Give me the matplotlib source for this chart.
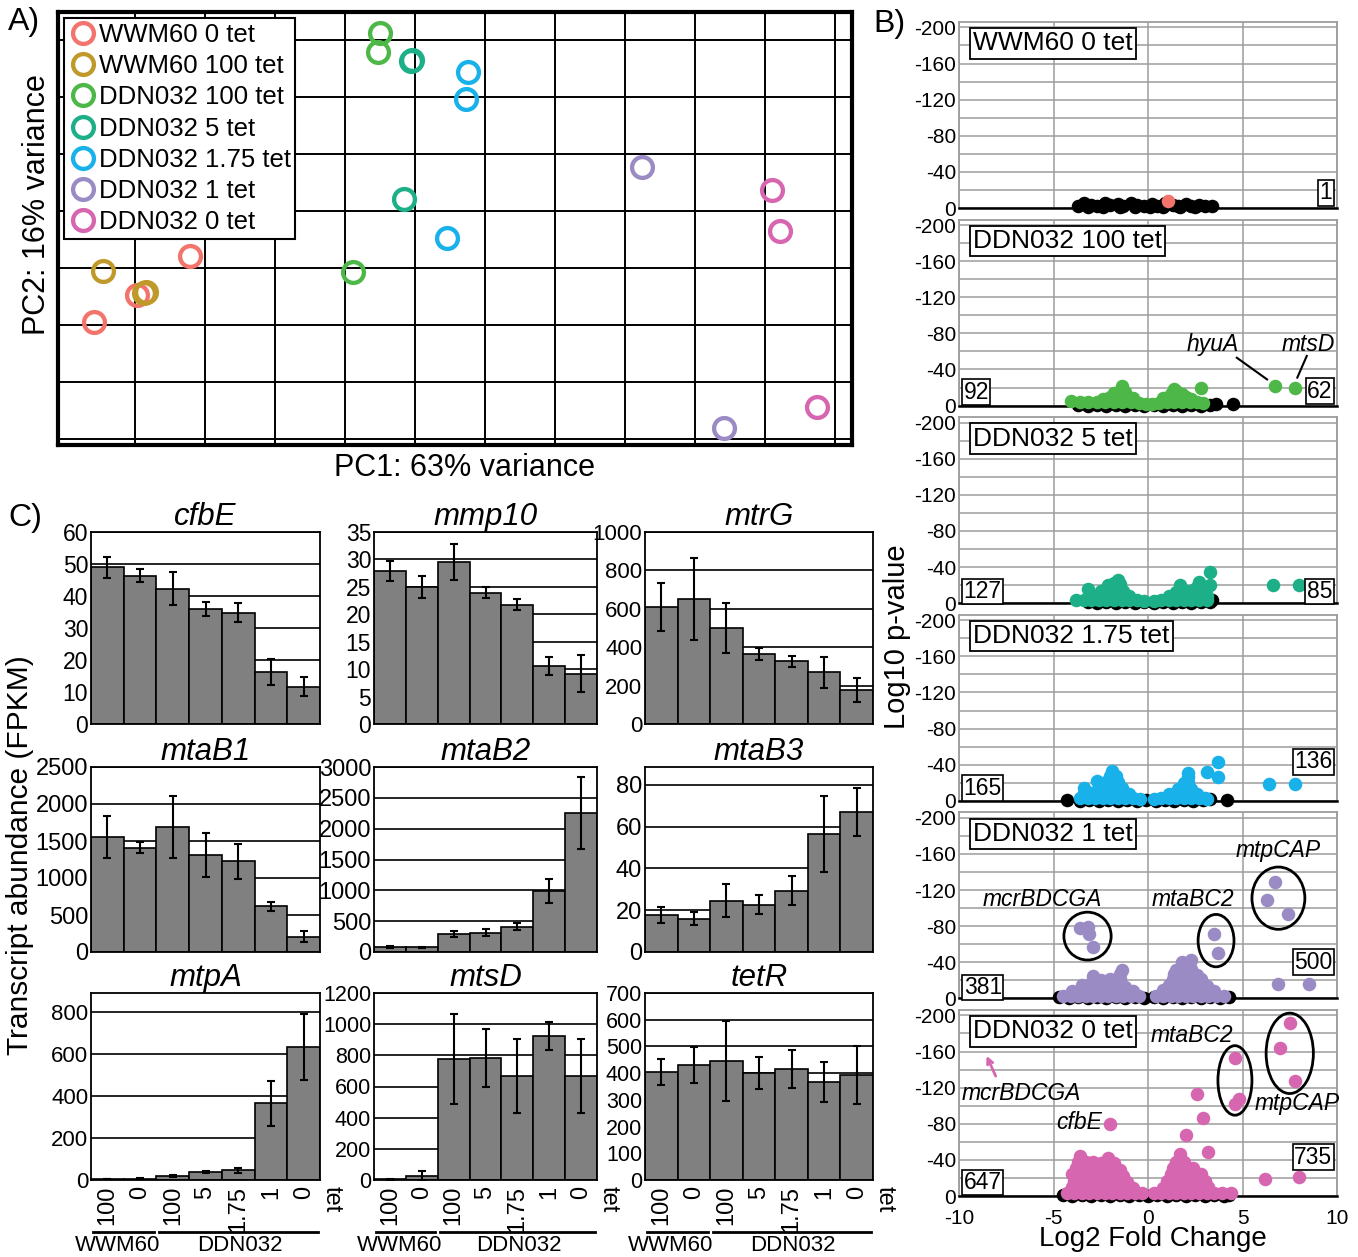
import numpy as np
import matplotlib
matplotlib.use('Agg')
import matplotlib.pyplot as plt
from matplotlib.patches import Ellipse
from matplotlib.ticker import MultipleLocator

plt.rcParams['font.family'] = ['Liberation Sans', 'DejaVu Sans']
plt.rcParams['axes.unicode_minus'] = False

# ---------------- A) PCA ----------------
pca_groups = ['WWM60 0 tet', 'WWM60 100 tet', 'DDN032 100 tet', 'DDN032 5 tet',
              'DDN032 1.75 tet', 'DDN032 1 tet', 'DDN032 0 tet']
pca_colors = ['#F3746C', '#BF9A2A', '#4DB848', '#1DB088', '#19B1EA', '#9A8BC5', '#D766B0']
pc1 = [[-32.1, -39.7, -45.9], [-44.6, -38.7, -38.4], [-5.0, -5.3, -8.9], [-0.4, -0.6, -1.6],
       [7.6, 7.3, 4.6], [32.4, 44.1], [51.0, 52.1, 57.4]]
pc2 = [[1.05, -2.3, -4.7], [-0.26, -2.2, -2.1], [20.7, 19.0, -0.35], [18.3, 18.2, 6.1],
       [17.2, 14.9, 2.7], [8.9, -14.0], [6.9, 3.3, -12.2]]

# ---------------- B) volcano plots ----------------
vol_titles = ['WWM60 0 tet', 'DDN032 100 tet', 'DDN032 5 tet', 'DDN032 1.75 tet',
              'DDN032 1 tet', 'DDN032 0 tet']
vol_colors = ['#F3746C', '#4DB848', '#1DB088', '#19B1EA', '#9A8BC5', '#D766B0']
vol_down = ['', '92', '127', '165', '381', '647']
vol_up = ['1', '62', '85', '136', '500', '735']

v1_ns_x = [-3.7, -3.4, -3.0, -2.7, -2.3, -2.0, -1.6, -1.3, -0.9, -0.6, -0.2, 0.2, 0.5, 0.9,
           1.3, 1.6, 2.0, 2.3, 2.7, 3.0, 3.4, -3.2, -2.4, -1.5, -0.7, 0.1, 0.8, 1.7, 2.5]
v1_ns_y = [-2, -5, -3, -2, -5, -3, -4, -2, -5, -3, -2, -4, -2, -5, -3, -2, -4, -2, -3, -2, -2,
           -1, -1, -1, -1, -1, -1, -1, -1]
v1_sig_x = [1.06]
v1_sig_y = [-8]

v2_ns_x = [-3.7, -3.2, -2.7, -2.2, -1.7, -1.2, -0.7, -0.2, 0.3, 0.8, 1.3, 1.8, 2.3, 2.8, 3.3, 3.6, 4.5]
v2_ns_y = [-1, 0, -1, 0, -1, 0, -1, 0, -1, 0, -1, 0, -1, 0, -1, -2, -2]
v2_sig_x = [-4.1, -3.6, -3.15, -2.7, -2.25, -1.8, -1.35, -0.9, -0.45, -0.1,
            0.2, 0.6, 1.0, 1.4, 1.8, 2.2, 2.6, 2.9,
            -2.4, -2.0, -1.6, -1.2, -0.8, 0.8, 1.2, 1.6, 2.0, 2.3,
            -1.8, -1.5, -1.2, 1.2, 1.5, 1.8,
            -1.4, 1.4,
            2.8, 6.7, 7.8]
v2_sig_y = [-5, -4, -4, -4, -4, -4, -4, -4, -3, -2,
            -2, -3, -4, -4, -4, -4, -4, -3,
            -7, -9, -10, -10, -8, -8, -10, -10, -9, -7,
            -14, -16, -15, -13, -16, -13,
            -22, -18,
            -19, -22, -20]

v3_ns_x = [-3.2, -2.7, -2.2, -1.7, -1.2, -0.7, -0.2, 0.3, 0.8, 1.3, 1.8, 2.3, 2.8, 3.3, 3.4]
v3_ns_y = [-1, 0, -1, 0, -1, 0, -1, 0, -1, 0, -1, 0, -1, -1, -3]
v3_sig_x = [-3.8, -3.4, -3.0, -2.6, -2.2, -1.8, -1.4, -1.0, -0.6, -0.2,
            0.3, 0.7, 1.1, 1.5, 1.9, 2.3, 2.7, 3.1,
            -3.0, -2.6, -2.2, -1.8, -1.4, -1.0, 1.1, 1.5, 1.9, 2.3, 2.7, 3.1,
            -3.2, -2.5, -2.1, -1.7, -1.3, 1.5, 2.0, 2.4, 2.8,
            -2.1, -1.8, -1.5, 1.7, 2.6,
            -1.6,
            2.7, 3.3, 3.3, 6.6, 8.0]
v3_sig_y = [-3, -3, -3, -3, -3, -3, -3, -3, -3, -2,
            -2, -3, -3, -3, -3, -3, -3, -3,
            -9, -9, -9, -9, -9, -8, -8, -9, -9, -9, -9, -8,
            -16, -14, -15, -15, -13, -12, -13, -15, -13,
            -20, -22, -21, -20, -18,
            -26,
            -24, -35, -20, -20, -20]

v4_ns_x = [-4.3, -3.6, -3.1, -2.6, -2.1, -1.6, -1.1, -0.6, -0.1, 0.4, 0.9, 1.4, 1.9, 2.4, 2.9, 3.3, 4.2]
v4_ns_y = [-1, 0, -1, 0, -1, 0, -1, 0, -1, 0, -1, 0, -1, 0, -1, -2, -1]
v4_sig_x = [-3.6, -3.2, -2.8, -2.4, -2.0, -1.6, -1.2, -0.8, -0.4,
            0.3, 0.7, 1.1, 1.5, 1.9, 2.3, 2.7, 3.0,
            -3.4, -3.0, -2.6, -2.2, -1.8, -1.4, -1.0, 1.1, 1.5, 1.9, 2.3, 2.6,
            -3.4, -2.6, -2.2, -1.8, -1.4, 1.6, 2.0, 2.3,
            -2.7, -2.2, -1.9, -1.6, 1.9, 2.1,
            -2.0, -1.7, 2.1,
            -1.9, 2.1,
            3.1, 3.7, 3.7, 3.1, 6.4, 7.8]
v4_sig_y = [-3, -3, -3, -3, -3, -3, -3, -3, -2,
            -2, -3, -3, -3, -3, -3, -3, -3,
            -9, -9, -9, -9, -9, -9, -8, -8, -9, -9, -9, -8,
            -14, -15, -15, -15, -14, -13, -14, -13,
            -22, -21, -21, -21, -20, -21,
            -27, -27, -26,
            -33, -31,
            -32, -43, -26, -2, -19, -19]

v5_ns_x = [-4.7, -4.2, -3.7, -3.2, -2.7, -2.2, -1.7, -1.2, -0.7, -0.2, 0.3, 0.8, 1.3, 1.8,
           2.3, 2.8, 3.3, 3.8, 4.3]
v5_ns_y = [-1, 0, -1, 0, -1, 0, -1, 0, -1, 0, -1, 0, -1, 0, -1, 0, -1, 0, -1]
v5_sig_x = [-4.5, -4.1, -3.7, -3.3, -2.9, -2.5, -2.1, -1.7, -1.3, -0.9, -0.5,
            0.4, 0.8, 1.2, 1.6, 2.0, 2.4, 2.8, 3.2, 3.6, 4.0,
            -4.0, -3.6, -3.2, -2.8, -2.4, -2.0, -1.6, -1.2, -0.8,
            0.8, 1.2, 1.6, 2.0, 2.4, 2.8, 3.2, 3.5,
            -3.5, -3.1, -2.7, -2.3, -1.9, -1.5, -1.2,
            1.1, 1.5, 1.9, 2.3, 2.7, 3.1,
            -2.9, -2.5, -2.0, -1.5, 1.3, 1.7, 2.1, 2.5, 2.8,
            -2.9, -1.5, 1.4, 1.8, 2.2, 2.6,
            -1.4, 1.5, 1.9, 2.3,
            1.8, 2.3,
            -3.6, -3.2, -3.1, -2.9,
            3.5, 3.7,
            6.7, 6.3, 7.4,
            6.9, 8.5]
v5_sig_y = [-3, -3, -3, -3, -3, -3, -3, -3, -3, -3, -3,
            -3, -3, -3, -3, -3, -3, -3, -3, -3, -3,
            -8, -9, -9, -9, -9, -9, -9, -9, -8,
            -9, -9, -9, -9, -9, -9, -9, -8,
            -15, -15, -15, -15, -15, -15, -13,
            -15, -15, -15, -15, -15, -14,
            -21, -20, -21, -21, -21, -21, -21, -21, -21,
            -25, -27, -27, -27, -27, -26,
            -31, -32, -33, -33,
            -40, -42,
            -78, -79, -71, -57,
            -71, -50,
            -129, -109, -93,
            -16, -16]

v6_ns_x = [-4.5, -4.0, -3.5, -3.0, -2.5, -2.0, -1.5, -1.0, -0.5, 0.0, 0.5, 1.0, 1.5, 2.0,
           2.5, 3.0, 3.5, 4.0, 4.3]
v6_ns_y = [-1, 0, -1, 0, -1, 0, -1, 0, -1, 0, -1, 0, -1, 0, -1, 0, -1, 0, -1]
v6_sig_x = [-4.3, -3.9, -3.5, -3.1, -2.7, -2.3, -1.9, -1.5, -1.1, -0.7, -0.3,
            0.3, 0.7, 1.1, 1.5, 1.9, 2.3, 2.7, 3.1, 3.5, 3.9, 4.4,
            -4.0, -3.6, -3.2, -2.8, -2.4, -2.0, -1.6, -1.2, -0.8,
            0.8, 1.2, 1.6, 2.0, 2.4, 2.8, 3.2,
            -3.9, -3.5, -3.1, -2.7, -2.3, -1.9, -1.5, -1.1,
            1.0, 1.4, 1.8, 2.2, 2.6, 3.0,
            -4.0, -3.6, -3.2, -2.8, -2.4, -2.0, -1.6, -1.3,
            1.2, 1.6, 2.0, 2.4, 2.8,
            -3.8, -3.4, -3.0, -2.6, -2.2, -1.8, -1.5,
            1.3, 1.7, 2.1, 2.4,
            -3.7, -3.3, -2.9, -2.5, -2.1, -1.8,
            1.5, 1.9,
            -3.6, -2.1, 1.7,
            2.6, 2.9, 2.0, 3.2,
            4.6, 4.6, 4.8,
            7.5, 7.0, 7.8,
            -2.0,
            6.2, 8.0]
v6_sig_y = [-3, -3, -3, -3, -3, -3, -3, -3, -3, -3, -3,
            -3, -3, -3, -3, -3, -3, -3, -3, -3, -3, -3,
            -10, -10, -10, -10, -10, -10, -10, -10, -9,
            -9, -10, -10, -10, -10, -10, -10,
            -17, -17, -17, -17, -17, -17, -17, -15,
            -17, -17, -17, -17, -17, -17,
            -24, -24, -24, -24, -24, -24, -24, -22,
            -24, -24, -24, -24, -24,
            -31, -31, -31, -31, -31, -31, -29,
            -31, -31, -31, -31,
            -38, -38, -38, -37, -38, -36,
            -38, -38,
            -44, -42, -46,
            -113, -86, -68, -49,
            -153, -102, -107,
            -192, -164, -127,
            -80,
            -19, -21]

# ---------------- C) bar charts ----------------
genes = ['cfbE', 'mmp10', 'mtrG', 'mtaB1', 'mtaB2', 'mtaB3', 'mtpA', 'mtsD', 'tetR']
conditions = ['100', '0', '100', '5', '1.75', '1', '0']
fpkm = [[49.0, 46.4, 42.3, 36.0, 34.8, 16.2, 11.7],
        [27.9, 24.9, 29.5, 23.9, 21.7, 10.6, 9.2],
        [610, 652, 499, 365, 326, 269, 177],
        [1555, 1411, 1689, 1308, 1223, 618, 206],
        [78, 76, 286, 314, 411, 995, 2254],
        [17.8, 15.9, 24.6, 22.6, 29.4, 56.4, 67.0],
        [5, 6, 20, 37, 47, 366, 634],
        [5, 25, 777, 783, 668, 924, 668],
        [404, 431, 446, 401, 416, 367, 393]]
fpkm_err = [[3.3, 2.0, 5.2, 2.2, 3.0, 4.0, 3.0],
            [1.9, 2.0, 3.3, 1.0, 1.0, 1.7, 3.4],
            [126, 215, 129, 33, 30, 79, 60],
            [280, 74, 421, 298, 240, 58, 76],
            [12, 8, 48, 57, 54, 195, 587],
            [3.8, 3.0, 7.7, 4.5, 7.0, 18.0, 11.5],
            [2, 2, 4, 5, 12, 107, 158],
            [3, 30, 290, 185, 240, 90, 240],
            [50, 68, 150, 60, 70, 75, 110]]
y_max = [60, 35, 1000, 2500, 3000, 88.5, 890, 1200, 700]
y_step = [10, 5, 200, 500, 500, 20, 200, 200, 100]

W, H = 1358, 1257
fig = plt.figure(figsize=(W / 100, H / 100), dpi=100)


def px_axes(x0, y0, x1, y1):
    return fig.add_axes([x0 / W, 1 - y1 / H, (x1 - x0) / W, (y1 - y0) / H])


# ---- panel A ----
ax = px_axes(58, 12, 852, 445)
for g, c, xs, ys in zip(pca_groups, pca_colors, pc1, pc2):
    ax.plot(xs, ys, 'o', ms=15, mfc='none', mec=c, mew=3.1, label=g, zorder=3, clip_on=False)
ax.set_xlim(-51, 62.4)
ax.set_ylim(-15.5, 22.5)
ax.set_xticks(np.arange(-40, 61, 10))
ax.set_yticks(np.arange(-15, 21, 5))
ax.tick_params(length=0, labelbottom=False, labelleft=False)
ax.grid(True, color='black', lw=1.4)
ax.set_axisbelow(True)
for s in ax.spines.values():
    s.set_linewidth(3)
leg = ax.legend(loc='upper left', fontsize=18.5, fancybox=False, edgecolor='black',
                framealpha=1, borderpad=0.18, labelspacing=0.28, handletextpad=0.1,
                handlelength=1.05, borderaxespad=0.25)
leg.get_frame().set_linewidth(1.5)
fig.text(465 / W, 1 - 468 / H, 'PC1: 63% variance', fontsize=22, ha='center', va='center')
fig.text(37 / W, 1 - 205 / H, 'PC2: 16% variance', fontsize=22, ha='center', va='center',
         rotation=90)
fig.text(8 / W, 1 - 22 / H, 'A)', fontsize=23, ha='left', va='center')

# ---- panel B ----
ns_x = [v1_ns_x, v2_ns_x, v3_ns_x, v4_ns_x, v5_ns_x, v6_ns_x]
ns_y = [v1_ns_y, v2_ns_y, v3_ns_y, v4_ns_y, v5_ns_y, v6_ns_y]
sig_x = [v1_sig_x, v2_sig_x, v3_sig_x, v4_sig_x, v5_sig_x, v6_sig_x]
sig_y = [v1_sig_y, v2_sig_y, v3_sig_y, v4_sig_y, v5_sig_y, v6_sig_y]
down_pos = [None, -15, -13, -14, -12, -15]
up_pos = [-17, -16, -13, -43, -40, -43]
grey = '#9C9C9C'
vax = []
for i in range(6):
    top = 22 + i * 197.6
    a = px_axes(959, top, 1337, top + 186)
    vax.append(a)
    a.set_xlim(-10, 10)
    a.set_ylim(0, -206)
    a.xaxis.set_major_locator(MultipleLocator(5))
    a.yaxis.set_major_locator(MultipleLocator(40))
    a.yaxis.set_minor_locator(MultipleLocator(20))
    a.grid(True, which='both', color=grey, lw=1.1)
    a.set_axisbelow(True)
    a.tick_params(which='both', length=0, labelsize=15, pad=2)
    a.tick_params(axis='x', pad=9)
    if i < 5:
        a.tick_params(labelbottom=False)
    for s in a.spines.values():
        s.set_color(grey)
        s.set_linewidth(1.3)
    a.spines['bottom'].set_color('black')
    a.spines['bottom'].set_linewidth(1.8)
    a.scatter(ns_x[i], ns_y[i], s=95, c='black', lw=0, zorder=3, clip_on=False)
    a.scatter(sig_x[i], sig_y[i], s=95, c=vol_colors[i], lw=0, zorder=4, clip_on=False)
    a.text(0.037, 0.885, vol_titles[i], transform=a.transAxes, fontsize=19, ha='left',
           va='center', zorder=6,
           bbox=dict(boxstyle='square,pad=0.12', fc='white', ec='black', lw=1.3))
    box = dict(boxstyle='square,pad=0.06', fc='white', ec='black', lw=1.2)
    if vol_down[i]:
        a.text(-9.75, down_pos[i], vol_down[i], fontsize=16.5, ha='left', va='center',
               zorder=6, bbox=box)
    a.text(9.75, up_pos[i], vol_up[i], fontsize=16.5, ha='right', va='center',
           zorder=6, bbox=box)

# annotations
lab = dict(fontsize=16.5, style='italic', ha='center', va='center', zorder=6)
a = vax[1]
a.text(3.4, -68, 'hyuA', **lab)
a.plot([4.7, 6.3], [-53, -29], color='black', lw=1.5, zorder=5)
a.text(8.5, -68, 'mtsD', **lab)
a.plot([8.4, 7.9], [-55, -31], color='black', lw=1.5, zorder=5)

a = vax[4]
a.text(-5.6, -110, 'mcrBDCGA', **lab)
a.text(2.4, -110, 'mtaBC2', **lab)
a.text(6.9, -164, 'mtpCAP', **lab)
for (cx, cy, w, h) in [(-3.2, -69, 2.5, 53), (3.6, -64, 1.9, 58), (6.9, -111, 2.8, 69)]:
    a.add_patch(Ellipse((cx, cy), w, h, fill=False, ec='black', lw=2, zorder=5))

a = vax[5]
a.text(2.3, -178, 'mtaBC2', **lab)
a.text(7.9, -102, 'mtpCAP', **lab)
a.text(-6.7, -113, 'mcrBDCGA', **lab)
a.text(-3.65, -81, 'cfbE', **lab)
a.annotate('', xy=(-8.6, -158), xytext=(-8.0, -130),
           arrowprops=dict(arrowstyle='->', color='#D766B0', lw=2))
for (cx, cy, w, h) in [(4.6, -128, 1.8, 77), (7.5, -158, 2.5, 89)]:
    a.add_patch(Ellipse((cx, cy), w, h, fill=False, ec='black', lw=2, zorder=5))

fig.text(897 / W, 1 - 637 / H, 'Log10 p-value', fontsize=21, ha='center', va='center',
         rotation=90)
fig.text(1153 / W, 1 - 1239 / H, 'Log2 Fold Change', fontsize=20, ha='center', va='center')
fig.text(873 / W, 1 - 24 / H, 'B)', fontsize=23, ha='left', va='center')

# ---- panel C ----
cols = [(91, 320), (374, 597), (645, 873)]
rows = [(532, 724), (767, 952), (993, 1180)]
tick_fs = [16.5, 16.5, 16, 17, 17, 17, 16, 15.5, 15.5]
x = np.arange(7)
for k, gene in enumerate(genes):
    r, c = divmod(k, 3)
    a = px_axes(cols[c][0], rows[r][0], cols[c][1], rows[r][1])
    a.bar(x, fpkm[k], width=1.0, color='#808080', edgecolor='black', lw=1.2,
          yerr=fpkm_err[k], capsize=3,
          error_kw=dict(elinewidth=1.5, capthick=1.5, ecolor='black'), zorder=2)
    a.set_xlim(-0.5, 6.5)
    a.set_ylim(0, y_max[k])
    a.yaxis.set_major_locator(MultipleLocator(y_step[k]))
    a.yaxis.grid(True, color='black', lw=1.2)
    a.set_axisbelow(True)
    a.tick_params(axis='y', length=0, labelsize=tick_fs[k], pad=2)
    a.set_xticks([])
    for s in a.spines.values():
        s.set_linewidth(1.3)
    a.set_title(gene, style='italic', fontsize=22.5, pad=3)
    if r == 2:
        tr = a.get_xaxis_transform()
        for xi, lbl in zip(x, conditions):
            a.text(xi, -0.03, lbl, transform=tr, rotation=90, fontsize=17,
                   ha='center', va='top')
        a.text(6.85, -0.03, 'tet', transform=tr, rotation=270, fontsize=17,
               ha='center', va='top')
        a.plot([-0.45, 1.42], [-0.278, -0.278], transform=tr, color='black', lw=2,
               clip_on=False)
        a.plot([1.58, 6.45], [-0.278, -0.278], transform=tr, color='black', lw=2,
               clip_on=False)
        a.text(0.3, -0.35, 'WWM60', transform=tr, fontsize=16, ha='center', va='center')
        a.text(4.05, -0.35, 'DDN032', transform=tr, fontsize=16, ha='center', va='center')

fig.text(20 / W, 1 - 855 / H, 'Transcript abundance (FPKM)', fontsize=21.5,
         ha='center', va='center', rotation=90)
fig.text(8 / W, 1 - 518 / H, 'C)', fontsize=23, ha='left', va='center')

fig.savefig('out.png', dpi=100)
